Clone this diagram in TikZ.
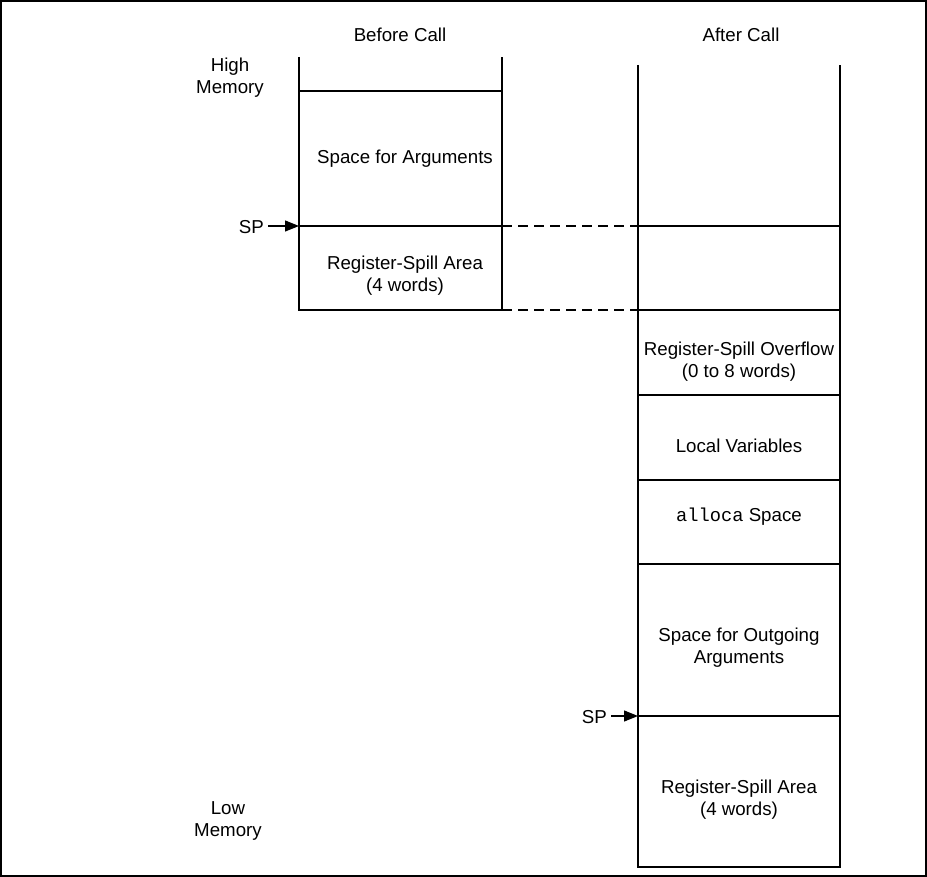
\documentclass[tikz,border=0pt]{standalone}
\usepackage{fontspec}
\setmainfont{Liberation Sans}
\setmonofont{Liberation Mono}
\usetikzlibrary{arrows.meta}
\begin{document}
\begin{tikzpicture}[x=1pt,y=-1pt,
  every node/.style={font=\fontsize{18.7}{22}\selectfont, inner sep=0pt, align=center},
  wall/.style={line width=1.4pt},
  dash line/.style={line width=1.4pt, dash pattern=on 10pt off 6pt},
  ptr/.style={line width=1.2pt, -{Triangle[length=14pt,width=11pt]}}]
\useasboundingbox (0,0) rectangle (927,877);
\draw[line width=2.2pt] (1,1) rectangle (926,876);
% headings
\node (before) at (400,35) {Before Call};
\node (after) at (741,35) {After Call};
\node (high) at (230,78) {High\\Memory};
\node (low) at (228,821) {Low\\Memory};
% left column coordinates
\coordinate (L0a) at (299,57); \coordinate (L0b) at (502,57);
\coordinate (L1a) at (299,91); \coordinate (L1b) at (502,91);
\coordinate (L2a) at (299,226); \coordinate (L2b) at (502,226);
\coordinate (L3a) at (299,310); \coordinate (L3b) at (502,310);
\draw[wall] (L0a) -- (L3a) -- (L3b) -- (L0b);
\draw[wall] (L1a) -- (L1b);
\draw[wall] (L2a) -- (L2b);
% right column coordinates
\coordinate (R0a) at (638,65); \coordinate (R0b) at (840,65);
\coordinate (R1a) at (638,226); \coordinate (R1b) at (840,226);
\coordinate (R2a) at (638,310); \coordinate (R2b) at (840,310);
\coordinate (R3a) at (638,395); \coordinate (R3b) at (840,395);
\coordinate (R4a) at (638,480); \coordinate (R4b) at (840,480);
\coordinate (R5a) at (638,564); \coordinate (R5b) at (840,564);
\coordinate (R6a) at (638,716); \coordinate (R6b) at (840,716);
\coordinate (R7a) at (638,867); \coordinate (R7b) at (840,867);
\draw[wall] (R0a) -- (R7a) -- (R7b) -- (R0b);
\foreach \i in {1,...,6} \draw[wall] (R\i a) -- (R\i b);
% dashed links
\draw[dash line] (L2b) -- (R1a);
\draw[dash line] (L3b) -- (R2a);
% left texts
\node (argsL) at (405,159) {Space for Arguments};
\node (spillL) at (405,276) {Register-Spill Area\\(4 words)};
% right texts
\node (overflow) at (739,362) {Register-Spill Overflow\\(0 to 8 words)};
\node (locals) at (739,446) {Local Variables};
\node (alloca) at (739,517) {\texttt{alloca} Space};
\node (outargs) at (739,648) {Space for Outgoing\\Arguments};
\node (spillR) at (739,800) {Register-Spill Area\\(4 words)};
% SP pointers
\node[anchor=east] (sp1) at (264,227) {SP};
\node[anchor=east] (sp2) at (607,717) {SP};
\draw[ptr] (268,226) -- (L2a);
\draw[ptr] (611,716) -- (R6a);
\end{tikzpicture}
\end{document}
